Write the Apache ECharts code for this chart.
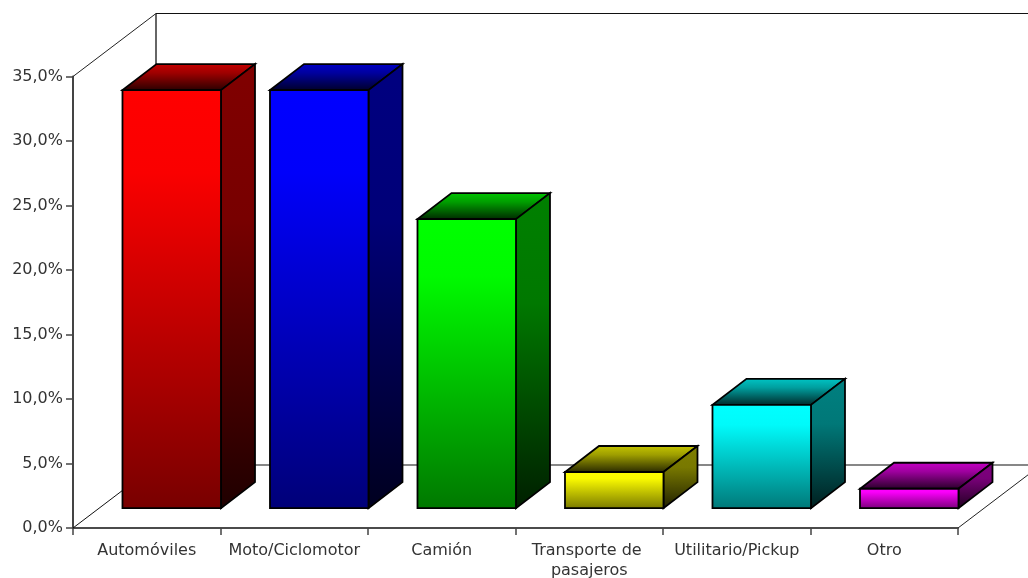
<!DOCTYPE html>
<html><head><meta charset="utf-8">
<style>html,body{margin:0;padding:0;background:#fff}#c{width:1028px;height:578px}</style>
<script src="https://cdn.jsdelivr.net/npm/echarts@6/dist/echarts.min.js"></script>
</head><body><div id="c"></div>
<script>
const categories = ['Automóviles','Moto/Ciclomotor','Camión','Transporte de pasajeros','Utilitario/Pickup','Otro'];
const values = [32.4,32.4,22.4,2.8,8.0,1.5];
const baseColors = [[255,0,0],[0,0,255],[0,255,0],[255,255,0],[0,255,255],[255,0,255]];
const yTicks = {min:0,max:35,interval:5};

const WALL = {dx:83,dy:-63};
const FRONT = 0.3, GAP = 1/6, DEPTH = 34, DEPTH_Y = -26, BAR_W = 98.5;
const shade = (c,k)=>`rgb(${c.map(v=>Math.round(v*k)).join(',')})`;
const grad = (stops,c)=>({type:'linear',x:0,y:0,x2:0,y2:1,
  colorStops:stops.map(([o,k])=>({offset:o,color:shade(c,k)}))});
const edge = {stroke:'#000',lineWidth:1.8,lineJoin:'miter'};

function renderWalls(params,api){
  const o=api.coord([0,0]); const band=api.size([1,0])[0];
  const x0=o[0]-band/2, y0=o[1], yTop=api.coord([0,yTicks.max])[1];
  const x1=x0+band*categories.length;
  const bx=x0+WALL.dx, by=y0+WALL.dy, ty=yTop+WALL.dy;
  const L=(a,b,c,d,w,col)=>({type:'line',shape:{x1:a,y1:b,x2:c,y2:d},
    style:{stroke:col||'#000',lineWidth:w||1}});
  return {type:'group',children:[
    L(x0,yTop,bx,ty,1,'#222'),
    L(bx,ty,bx,by,1.5,'#333'),
    L(bx,ty,x1+WALL.dx,ty,1.2,'#111'),
    L(x0,y0,bx,by,1,'#111'),
    L(bx,by,x1+WALL.dx,by,1.2,'#111'),
    L(x1,y0,x1+WALL.dx,by,1,'#222')
  ]};
}
function renderBar(params,api){
  const i=api.value(0), v=api.value(1);
  const band=api.size([1,0])[0];
  const c=api.coord([i,0]), t=api.coord([i,v]);
  const left=c[0]-band/2+band*GAP+WALL.dx*FRONT, right=left+BAR_W;
  const bottom=c[1]+WALL.dy*FRONT-1, top=t[1]+WALL.dy*FRONT-1;
  const col=baseColors[i];
  return {type:'group',children:[
    {type:'polygon',shape:{points:[[left,top],[right,top],[right+DEPTH,top+DEPTH_Y],[left+DEPTH,top+DEPTH_Y]]},
      style:Object.assign({fill:grad([[0,0.78],[0.35,0.62],[1,0.15]],col)},edge)},
    {type:'polygon',shape:{points:[[right,top],[right+DEPTH,top+DEPTH_Y],[right+DEPTH,bottom+DEPTH_Y],[right,bottom]]},
      style:Object.assign({fill:grad([[0,0.5],[0.35,0.47],[1,0.12]],col)},edge)},
    {type:'rect',shape:{x:left,y:top,width:BAR_W,height:bottom-top},
      style:Object.assign({fill:grad([[0,1],[0.2,0.98],[1,0.47]],col)},edge)}
  ]};
}
const chart=echarts.init(document.getElementById('c'),null,{renderer:'canvas'});
const font={fontFamily:'"DejaVu Sans",sans-serif',fontSize:16,color:'#333'};
chart.setOption({
  animation:false,backgroundColor:'#fff',
  grid:{left:73,right:70,top:76.5,bottom:50,containLabel:false,outerBoundsMode:'none'},
  xAxis:{type:'category',data:categories,boundaryGap:true,
    axisLine:{lineStyle:{color:'#111',width:1.5}},
    axisTick:{show:true,alignWithLabel:false,length:7,lineStyle:{color:'#444',width:1.5}},
    axisLabel:Object.assign({},font,{interval:0,width:146,overflow:'break',lineHeight:20,margin:13,hideOverlap:false}),
    splitLine:{show:false}},
  yAxis:{type:'value',min:yTicks.min,max:yTicks.max,interval:yTicks.interval,
    axisLine:{show:true,lineStyle:{color:'#444',width:2}},
    axisTick:{show:true,length:7,lineStyle:{color:'#444',width:1.5}},
    axisLabel:Object.assign({},font,{margin:10,formatter:v=>v.toFixed(1).replace('.',',')+'%'}),
    splitLine:{show:false}},
  series:[
    {type:'custom',silent:true,clip:false,z:1,renderItem:renderWalls,data:[[0,0]],encode:{x:0,y:1}},
    {type:'custom',silent:true,clip:false,z:2,renderItem:renderBar,
      data:values.map((v,i)=>[i,v]),encode:{x:0,y:1}}
  ]
});
</script></body></html>
